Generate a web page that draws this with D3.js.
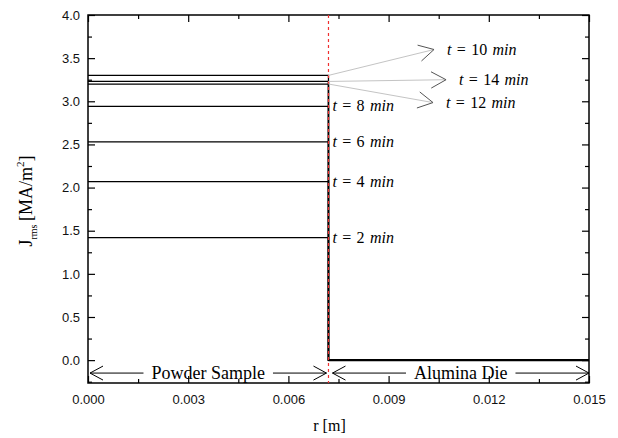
<!DOCTYPE html>
<html>
<head>
<meta charset="utf-8">
<script src="https://cdn.jsdelivr.net/npm/d3@7"></script>
<style>
  body { margin: 0; background: #fff; }
  svg { display: block; }
</style>
</head>
<body>
<svg></svg>
<script>
// data
const times = [2, 4, 6, 8, 10, 12, 14]                 // min
const jValues = [1.42, 2.07, 2.53, 2.94, 3.30, 3.20, 3.23] // MA/m^2 in powder
const rInterface = 0.0072
const rMax = 0.015
const xTicks = [0, 0.003, 0.006, 0.009, 0.012, 0.015]
const yTicks = [0, 0.5, 1.0, 1.5, 2.0, 2.5, 3.0, 3.5, 4.0]

// labels written next to the interface (t = 2..8)
const inlineTimes = [2, 4, 6, 8]
// arrow annotations (t = 10, 12, 14): arrow tip in data units
const arrowTimes = [10, 14, 12]
const arrowTipR = [0.01036, 0.01072, 0.01033]
const arrowTipJ = [3.60, 3.25, 2.985]

const regionNames = ["Powder Sample", "Alumina Die"]

let width = 618
let height = 438
let margin = {left: 88, right: 29, top: 15, bottom: 55}

let svg = d3.select('svg').attr('width', width).attr('height', height)
    .style('font-family', '"Liberation Serif", "Times New Roman", serif')

let xScale = d3.scaleLinear().domain([0, rMax]).range([margin.left, width - margin.right])
let yScale = d3.scaleLinear().domain([-0.265, 4.0]).range([height - margin.bottom, margin.top])

let x0 = xScale.range()[0], x1 = xScale.range()[1]
let y0 = yScale.range()[0], y1 = yScale.range()[1]

// axes
let fmt3 = d3.format('.3f')
let fmt1 = d3.format('.1f')
let xMinor = d3.range(0.0015, rMax, 0.003)
let yMinor = d3.range(-0.25, 4.0, 0.5)

let axisFont = 'Liberation Sans, Arial, sans-serif'

let axBottom = svg.append('g').attr('transform', 'translate(0,' + y0 + ')')
    .call(d3.axisBottom(xScale).tickValues(xTicks).tickFormat(fmt3).tickSizeInner(-7).tickSizeOuter(0).tickPadding(12))
axBottom.append('g').call(d3.axisBottom(xScale).tickValues(xMinor).tickFormat('').tickSizeInner(-4).tickSizeOuter(0))

let axLeft = svg.append('g').attr('transform', 'translate(' + x0 + ',0)')
    .call(d3.axisLeft(yScale).tickValues(yTicks).tickFormat(fmt1).tickSizeInner(-7).tickSizeOuter(0).tickPadding(8))
axLeft.append('g').call(d3.axisLeft(yScale).tickValues(yMinor).tickFormat('').tickSizeInner(-4).tickSizeOuter(0))

let axTop = svg.append('g').attr('transform', 'translate(0,' + y1 + ')')
    .call(d3.axisTop(xScale).tickValues(xTicks).tickFormat('').tickSizeInner(-7).tickSizeOuter(0))
axTop.append('g').call(d3.axisTop(xScale).tickValues(xMinor).tickFormat('').tickSizeInner(-4).tickSizeOuter(0))

let axRight = svg.append('g').attr('transform', 'translate(' + x1 + ',0)')
    .call(d3.axisRight(yScale).tickValues(yTicks).tickFormat('').tickSizeInner(-7).tickSizeOuter(0))
axRight.append('g').call(d3.axisRight(yScale).tickValues(yMinor).tickFormat('').tickSizeInner(-4).tickSizeOuter(0))

svg.selectAll('.domain').remove()
svg.selectAll('.tick line').attr('stroke', '#000').attr('stroke-width', 1.2)
svg.selectAll('.tick text').attr('fill', '#111').style('font-family', axisFont).style('font-size', '13px')

// frame
svg.append('rect')
   .attr('x', x0).attr('y', y1).attr('width', x1 - x0).attr('height', y0 - y1)
   .attr('fill', 'none').attr('stroke', '#000').attr('stroke-width', 1.5)

// curves: flat in the powder, zero in the die
let line = d3.line().x(d => xScale(d[0])).y(d => yScale(d[1]))
let profiles = jValues.map(j => [[0, j], [rInterface, j], [rInterface, 0], [rMax, 0]])

svg.selectAll('path.curve')
   .data(profiles)
   .enter()
   .append('path')
   .attr('class', 'curve')
   .attr('d', line)
   .attr('fill', 'none')
   .attr('stroke', '#000')
   .attr('stroke-width', 1.3)

// thicker zero line in the die
svg.append('path')
   .attr('d', line([[rInterface, 0], [rMax, 0]]))
   .attr('stroke', '#000').attr('stroke-width', 2)

// red dashed interface
svg.append('line')
   .attr('x1', xScale(rInterface)).attr('x2', xScale(rInterface))
   .attr('y1', y1).attr('y2', y0)
   .attr('stroke', '#f03030').attr('stroke-width', 1.2).attr('stroke-dasharray', '3,3')

// t labels
let tLabel = (sel, t) => {
    sel.append('tspan').style('font-style', 'italic').text('t')
    sel.append('tspan').text('\u2004=\u2004' + t + '\u2004')
    sel.append('tspan').style('font-style', 'italic').text('min')
}

inlineTimes.forEach(t => {
    let j = jValues[times.indexOf(t)]
    svg.append('text')
       .attr('x', xScale(rInterface) + 4)
       .attr('y', yScale(j) + 5)
       .style('font-size', '16px')
       .call(tLabel, t)
})

// arrow annotations
arrowTimes.forEach((t, i) => {
    let j = jValues[times.indexOf(t)]
    let sx = xScale(rInterface), sy = yScale(j)
    let tx = xScale(arrowTipR[i]), ty = yScale(arrowTipJ[i])
    svg.append('line')
       .attr('x1', sx).attr('y1', sy).attr('x2', tx).attr('y2', ty)
       .attr('stroke', '#c4c4c4').attr('stroke-width', 1)
    let ang = Math.atan2(ty - sy, tx - sx)
    let len = 17, spread = 0.5
    let p1 = [tx - len * Math.cos(ang - spread), ty - len * Math.sin(ang - spread)]
    let p2 = [tx - len * Math.cos(ang + spread), ty - len * Math.sin(ang + spread)]
    svg.append('path')
       .attr('d', 'M' + p1 + 'L' + [tx, ty] + 'L' + p2)
       .attr('fill', 'none').attr('stroke', '#555').attr('stroke-width', 1)
    svg.append('text')
       .attr('x', tx + 13)
       .attr('y', ty + 5)
       .style('font-size', '16px')
       .call(tLabel, t)
})

// region double arrows
let regionY = -0.15
let regionSpans = [[0, rInterface], [rInterface, rMax]]
regionSpans.forEach((span, i) => {
    let a = xScale(span[0]) + 2, b = xScale(span[1]) - 2
    if (i === 1) { a = xScale(span[0]) + 4; b = xScale(span[1]) }
    let yy = yScale(regionY)
    let mid = (a + b) / 2
    let txt = svg.append('text')
       .attr('x', mid).attr('y', yy + 6)
       .attr('text-anchor', 'middle')
       .style('font-size', '18px')
       .text(regionNames[i])
    let w = txt.node().getComputedTextLength()
    let gap = 8
    svg.append('path')
       .attr('d', 'M' + a + ',' + yy + 'L' + (mid - w / 2 - gap) + ',' + yy +
                  'M' + (mid + w / 2 + gap) + ',' + yy + 'L' + b + ',' + yy)
       .attr('stroke', '#000').attr('stroke-width', 1)
    svg.append('path')
       .attr('d', 'M' + (a + 13) + ',' + (yy - 7) + 'L' + a + ',' + yy + 'L' + (a + 13) + ',' + (yy + 7) +
                  'M' + (b - 13) + ',' + (yy - 7) + 'L' + b + ',' + yy + 'L' + (b - 13) + ',' + (yy + 7))
       .attr('fill', 'none').attr('stroke', '#000').attr('stroke-width', 1)
})

// axis titles
svg.append('text')
   .attr('x', (x0 + x1) / 2 - 9).attr('y', 431)
   .attr('text-anchor', 'middle')
   .style('font-size', '16px')
   .text('r [m]')

let yt = svg.append('text')
   .attr('transform', 'translate(32,' + 201 + ') rotate(-90)')
   .attr('text-anchor', 'middle')
   .style('font-size', '18px')
yt.append('tspan').text('J')
yt.append('tspan').attr('dy', 5).style('font-size', '10px').text('rms')
yt.append('tspan').attr('dy', -5).text('\u2009[MA/m')
yt.append('tspan').attr('dy', -8).style('font-size', '11px').text('2')
yt.append('tspan').attr('dy', 8).text(']')
</script>
</body>
</html>
